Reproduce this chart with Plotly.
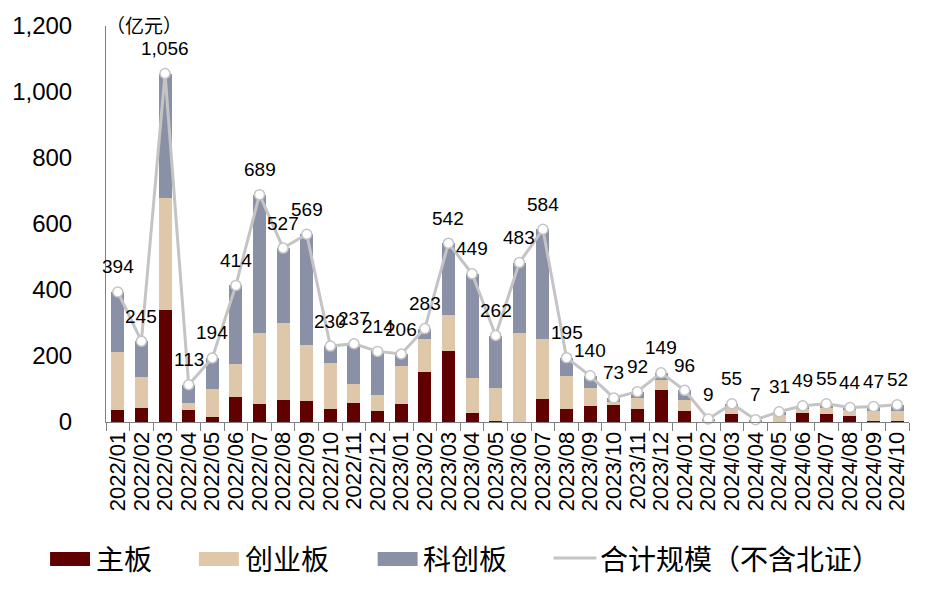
import plotly.graph_objects as go

months = ["2022/01","2022/02","2022/03","2022/04","2022/05","2022/06","2022/07","2022/08","2022/09","2022/10","2022/11","2022/12",
          "2023/01","2023/02","2023/03","2023/04","2023/05","2023/06","2023/07","2023/08","2023/09","2023/10","2023/11","2023/12",
          "2024/01","2024/02","2024/03","2024/04","2024/05","2024/06","2024/07","2024/08","2024/09","2024/10"]
main_board = [36,43,339,36,15,76,55,67,64,39,57,33,
              54,151,216,27,3,0,69,39,48,54,39,96,
              33,0,24,0,0,27,24,18,3,3]
gem_board = [175,92,339,21,85,99,216,234,168,141,57,48,
             117,102,108,105,99,270,183,99,54,6,33,30,
             33,4,18,3,20,12,18,18,30,30]
star_board = [183,110,378,56,94,239,418,226,337,50,123,133,
              35,30,218,317,160,213,332,57,38,13,20,23,
              30,5,13,4,11,10,13,8,14,19]
total = [394,245,1056,113,194,414,689,527,569,230,237,214,
         206,283,542,449,262,483,584,195,140,73,92,149,
         96,9,55,7,31,49,55,44,47,52]

names = ["主板", "创业板", "科创板", "合计规模（不含北证）"]
colors = ["#600000", "#dfc8aa", "#8a90a6", "#c4c4c4"]

FONT = "Arial, 'Liberation Sans', 'Noto Sans CJK SC', sans-serif"
CJK = "'Noto Sans CJK SC', 'Liberation Sans', sans-serif"

fig = go.Figure()
for vals, nm, c in zip([main_board, gem_board, star_board], names[:3], colors[:3]):
    fig.add_trace(go.Bar(x=months, y=vals, name=nm, marker=dict(color=c, line=dict(width=0)),
                         showlegend=False))
fig.add_trace(go.Scatter(x=months, y=total, name=names[3], mode="lines+markers",
                         line=dict(color=colors[3], width=3),
                         marker=dict(symbol="circle", size=10, color="white",
                                     line=dict(color=colors[3], width=1.5)),
                         cliponaxis=False, showlegend=False))

# plot area in pixels: x 105..909, y 23..422
L, R, T, B = 105, 909, 23, 422
W, H = R - L, B - T
def px(x): return (x - L) / W
def py(y): return (B - y) / H

shapes = []
annotations = []
for m, v in zip(months, total):
    annotations.append(dict(x=m, y=v, xref="x", yref="y", text=f"{v:,}", showarrow=False,
                            yshift=25, xanchor="center", yanchor="middle",
                            font=dict(size=19, color="black", family=FONT)))

leg = [(49, 89, 93), (198, 238, 242), (377, 417, 420)]
for (x0, x1, tx), nm, c in zip(leg, names[:3], colors[:3]):
    shapes.append(dict(type="rect", xref="paper", yref="paper", x0=px(x0), x1=px(x1),
                       y0=py(567), y1=py(553), fillcolor=c, line=dict(width=0)))
    annotations.append(dict(xref="paper", yref="paper", x=px(tx), y=py(559), text=nm,
                            showarrow=False, xanchor="left", yanchor="middle",
                            font=dict(size=28, color="black", family=CJK)))
shapes.append(dict(type="line", xref="paper", yref="paper", x0=px(553), x1=px(596),
                   y0=py(559), y1=py(559), line=dict(color=colors[3], width=3)))
fig.add_trace(go.Scatter(x=[px(574.5)], y=[py(559)], xaxis="x2", yaxis="y2", mode="markers",
                         marker=dict(symbol="circle", size=10, color="white",
                                     line=dict(color=colors[3], width=1.5)),
                         showlegend=False, hoverinfo="skip", cliponaxis=False))
annotations.append(dict(xref="paper", yref="paper", x=px(598), y=py(559), text=names[3],
                        showarrow=False, xanchor="left", yanchor="middle",
                        font=dict(size=28, color="black", family=CJK)))
annotations.append(dict(xref="paper", yref="paper", x=px(103), y=py(21), text="（亿元）",
                        showarrow=False, xanchor="left", yanchor="middle",
                        font=dict(size=19, color="black", family=CJK)))

fig.update_layout(
    width=932, height=590,
    margin=dict(l=L, r=932 - R, t=T, b=590 - B),
    barmode="stack", bargap=0.45,
    plot_bgcolor="white", paper_bgcolor="white",
    font=dict(family=FONT, color="black"),
    shapes=shapes, annotations=annotations,
    xaxis=dict(type="category", range=[-0.5, len(months) - 0.5],
               tickmode="array", tickvals=months, ticktext=months,
               showline=True, linecolor="#808080", linewidth=1,
               ticks="outside", tickson="boundaries", ticklen=8, tickcolor="#808080",
               tickangle=-90, tickfont=dict(size=22, color="black", family=FONT),
               showgrid=False, zeroline=False),
    yaxis=dict(range=[0, 1200], dtick=200, tickformat=",", showline=True, linecolor="#808080",
               linewidth=1, ticks="", showgrid=False, zeroline=False,
               tickfont=dict(size=24, color="black", family=FONT), ticklabelstandoff=28),
    xaxis2=dict(range=[0, 1], overlaying="x", visible=False),
    yaxis2=dict(range=[0, 1], overlaying="y", visible=False),
)
fig.write_html("out.html")
